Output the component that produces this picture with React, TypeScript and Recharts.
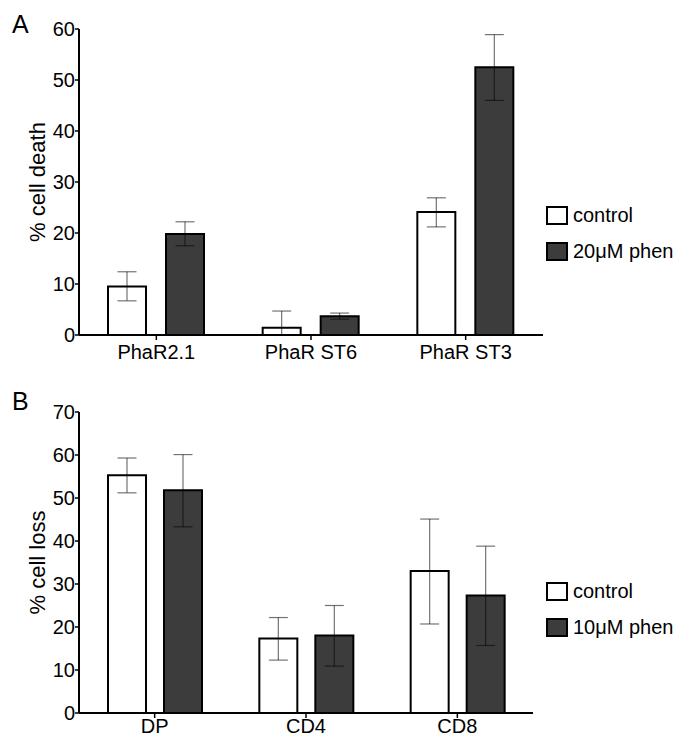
import { BarChart, Bar, XAxis, YAxis, ErrorBar, Legend } from 'recharts';

const FONT = '"Liberation Sans", Arial, Helvetica, sans-serif';
const DARK = '#3c3c3c';

// panel A — % cell death
const linesA = ['PhaR2.1', 'PhaR ST6', 'PhaR ST3'];
const controlA = [9.5, 1.4, 24.1];
const controlErrA = [[2.8, 2.9], [1.4, 3.3], [2.9, 2.8]];
const phenA = [19.8, 3.7, 52.5];
const phenErrA = [[2.3, 2.4], [0.6, 0.6], [6.5, 6.4]];
const ticksA = [0, 10, 20, 30, 40, 50, 60];

// panel B — % cell loss
const subsetsB = ['DP', 'CD4', 'CD8'];
const controlB = [55.3, 17.3, 33.0];
const controlErrB = [[4.1, 4.0], [5.0, 4.9], [12.3, 12.1]];
const phenB = [51.8, 18.0, 27.3];
const phenErrB = [[8.5, 8.3], [7.1, 7.0], [11.6, 11.5]];
const ticksB = [0, 10, 20, 30, 40, 50, 60, 70];

const dataA = linesA.map((name, i) => ({
  name,
  control: controlA[i],
  controlErr: controlErrA[i],
  phen: phenA[i],
  phenErr: phenErrA[i],
}));

const dataB = subsetsB.map((name, i) => ({
  name,
  control: controlB[i],
  controlErr: controlErrB[i],
  phen: phenB[i],
  phenErr: phenErrB[i],
}));

const tickStyle = { fill: '#000', fontSize: 20, fontFamily: FONT };
const axisLine = { stroke: '#000', strokeWidth: 2 };
const tickLine = { stroke: '#000', strokeWidth: 1.5 };

// control first, then the phen series (recharts sorts by name otherwise)
const renderLegend = (props: any) => {
  const items = [...(props.payload || [])].sort(
    (a: any, b: any) => (a.dataKey === 'control' ? -1 : 0) - (b.dataKey === 'control' ? -1 : 0),
  );
  return (
    <div style={{ fontFamily: FONT, fontSize: 20, color: '#000' }}>
      {items.map((entry: any) => (
        <div
          key={entry.value}
          style={{ display: 'flex', alignItems: 'center', height: 19, marginBottom: 17 }}
        >
          <span
            style={{
              display: 'inline-block',
              width: 22,
              height: 19,
              boxSizing: 'border-box',
              border: '2px solid #000',
              background: entry.color ?? entry.payload?.fill,
              marginRight: 5,
            }}
          />
          <span style={{ lineHeight: '19px', whiteSpace: 'nowrap' }}>{entry.value}</span>
        </div>
      ))}
    </div>
  );
};

const errStyle = { stroke: '#000', strokeOpacity: 0.55, strokeWidth: 1.2 };

interface PanelProps {
  data: any[];
  height: number;
  top: number;
  right: number;
  xHeight: number;
  tickMargin: number;
  domainMax: number;
  ticks: number[];
  yLabel: string;
  phenLabel: string;
  legendTop: number;
  barGap: number;
}

const Panel = (p: PanelProps) => (
  <BarChart
    width={684}
    height={p.height}
    data={p.data}
    margin={{ top: p.top, right: p.right, bottom: 0, left: 0 }}
    barSize={38}
    barGap={p.barGap}
  >
    <XAxis
      dataKey="name"
      tick={tickStyle}
      axisLine={axisLine}
      tickLine={tickLine}
      tickSize={5}
      tickMargin={p.tickMargin}
      height={p.xHeight}
      interval={0}
    />
    <YAxis
      width={79}
      domain={[0, p.domainMax]}
      ticks={p.ticks}
      interval={0}
      tick={tickStyle}
      axisLine={axisLine}
      tickLine={tickLine}
      tickSize={4}
      tickMargin={0}
      label={{
        value: p.yLabel,
        angle: -90,
        position: 'insideLeft',
        offset: 37,
        style: { textAnchor: 'middle', fill: '#000', fontSize: 22, fontFamily: FONT },
      }}
    />
    <Legend
      layout="vertical"
      align="center"
      verticalAlign="middle"
      content={renderLegend}
      wrapperStyle={{ left: 546, top: p.legendTop, width: 140 }}
    />
    <Bar dataKey="control" name="control" fill="#ffffff" stroke="#000" strokeWidth={2} isAnimationActive={false}>
      <ErrorBar dataKey="controlErr" width={9.5} {...errStyle} isAnimationActive={false} />
    </Bar>
    <Bar dataKey="phen" name={p.phenLabel} fill={DARK} stroke="#000" strokeWidth={2} isAnimationActive={false}>
      <ErrorBar dataKey="phenErr" width={9.5} {...errStyle} isAnimationActive={false} />
    </Bar>
  </BarChart>
);

const letterStyle = (top: number) => ({
  position: 'absolute' as const,
  left: 12,
  top,
  fontFamily: FONT,
  fontSize: 25,
  lineHeight: 1,
  color: '#000',
});

export default function App() {
  return (
    <div
      style={{
        position: 'absolute',
        left: 0,
        top: 0,
        width: 684,
        height: 736,
        background: '#fff',
        overflow: 'hidden',
      }}
    >
      <div style={{ position: 'absolute', left: 0, top: 0 }}>
        <Panel
          data={dataA}
          height={372}
          top={29}
          right={141}
          xHeight={37}
          tickMargin={5}
          domainMax={60}
          ticks={ticksA}
          yLabel="% cell death"
          phenLabel="20μM phen"
          legendTop={206}
          barGap={20}
        />
      </div>
      <div style={{ position: 'absolute', left: 0, top: 360 }}>
        <Panel
          data={dataB}
          height={376}
          top={52}
          right={151}
          xHeight={23}
          tickMargin={1}
          domainMax={70}
          ticks={ticksB}
          yLabel="% cell loss"
          phenLabel="10μM phen"
          legendTop={222}
          barGap={18}
        />
      </div>
      <div style={letterStyle(12)}>A</div>
      <div style={letterStyle(389)}>B</div>
    </div>
  );
}
